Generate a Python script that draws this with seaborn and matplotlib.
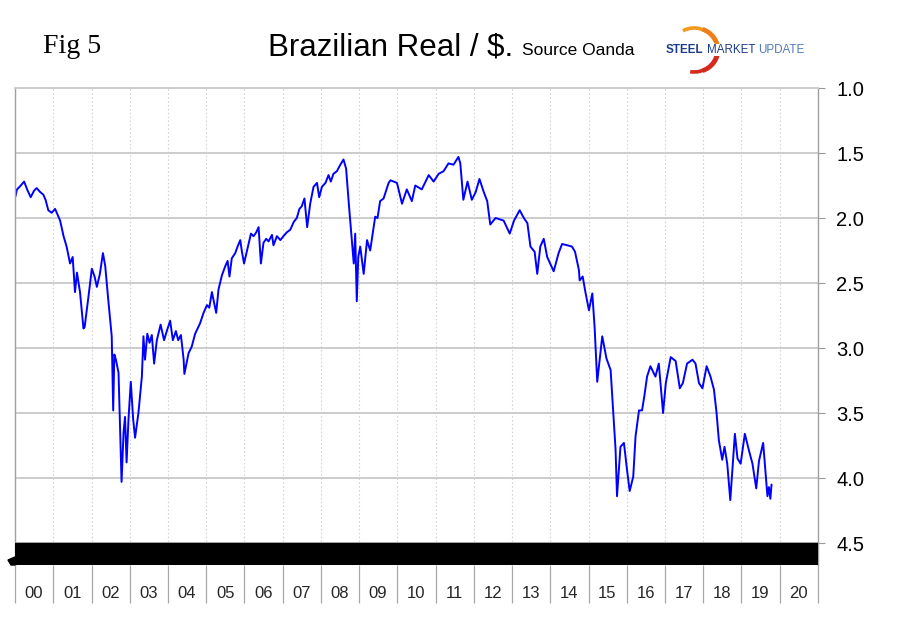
import pandas as pd
import seaborn as sns
import matplotlib.pyplot as plt
import matplotlib.dates as mdates
from matplotlib import font_manager
from matplotlib.patches import Arc, Polygon

# BRL per USD
dates = [
    "2000-01-03", "2000-01-20", "2000-02-14", "2000-03-28", "2000-05-01", "2000-05-30",
    "2000-07-01", "2000-07-26", "2000-08-28", "2000-09-27", "2000-10-19", "2000-11-14",
    "2000-12-16", "2001-01-18", "2001-02-14", "2001-03-07", "2001-04-09", "2001-05-08",
    "2001-06-10", "2001-07-05", "2001-07-27", "2001-08-15", "2001-09-13", "2001-10-16",
    "2001-10-27", "2001-12-02", "2002-01-04", "2002-01-30", "2002-02-21", "2002-03-22",
    "2002-04-20", "2002-05-12", "2002-06-10", "2002-07-13", "2002-07-27", "2002-08-07",
    "2002-08-22", "2002-09-16", "2002-10-15", "2002-11-03", "2002-11-17", "2002-12-02",
    "2002-12-20", "2003-01-11", "2003-02-03", "2003-02-21", "2003-03-25",
    # 2003-2008, read more closely
    "2003-04-27", "2003-05-12", "2003-05-27", "2003-06-18", "2003-07-09", "2003-07-31",
    "2003-08-22", "2003-09-17", "2003-10-23", "2003-11-25", "2003-12-21", "2004-01-22",
    "2004-02-17", "2004-03-17", "2004-04-08", "2004-05-04", "2004-05-30", "2004-06-06",
    "2004-07-16", "2004-08-15", "2004-09-17", "2004-11-03", "2004-12-06", "2005-01-08",
    "2005-01-30", "2005-02-24", "2005-04-06", "2005-04-28", "2005-05-31", "2005-07-02",
    "2005-07-24", "2005-08-11", "2005-09-02", "2005-10-05", "2005-10-27", "2005-11-22",
    "2005-12-06", "2005-12-28", "2006-01-26", "2006-03-04", "2006-03-29", "2006-04-24",
    "2006-05-16", "2006-06-07", "2006-07-02", "2006-07-28", "2006-08-19", "2006-09-21",
    "2006-10-05", "2006-11-07", "2006-12-10", "2007-01-08", "2007-02-10", "2007-03-15",
    "2007-04-17", "2007-05-16", "2007-06-10", "2007-07-02", "2007-07-28", "2007-08-23",
    "2007-09-21", "2007-10-23", "2007-11-25", "2007-12-16", "2008-01-11", "2008-02-14",
    "2008-03-14", "2008-04-05", "2008-04-30", "2008-06-02", "2008-07-05", "2008-08-04",
    "2008-08-29", "2008-09-24",
    # late 2008 onwards
    "2008-10-23", "2008-11-10", "2008-11-24", "2008-12-09", "2008-12-23",
    "2009-01-11", "2009-02-13", "2009-03-17", "2009-04-16", "2009-06-03", "2009-06-25",
    "2009-07-20", "2009-08-22", "2009-10-09", "2009-10-27", "2009-12-28", "2010-02-14",
    "2010-04-01", "2010-05-19", "2010-06-21", "2010-08-22", "2010-10-27", "2010-12-13",
    "2011-01-30", "2011-03-18", "2011-05-04", "2011-06-21", "2011-08-07", "2011-08-25",
    "2011-09-23", "2011-11-02", "2011-12-13", "2012-01-19", "2012-02-24", "2012-04-05",
    "2012-05-08", "2012-06-06", "2012-07-27", "2012-10-12", "2012-12-09", "2013-01-19",
    "2013-03-14", "2013-04-23", "2013-05-27", "2013-06-25", "2013-08-04", "2013-08-29",
    "2013-09-27", "2013-10-30", "2013-12-02", "2014-02-02", "2014-03-21", "2014-04-23",
    "2014-06-13", "2014-07-27", "2014-08-25", "2014-10-01", "2014-10-08", "2014-11-06",
    "2014-12-02", "2015-01-05", "2015-02-06", "2015-02-28", "2015-03-25", "2015-05-12",
    "2015-06-21", "2015-07-31", "2015-08-25", "2015-09-16", "2015-09-30", "2015-11-02",
    "2015-12-05", "2016-01-04", "2016-01-29", "2016-03-03", "2016-03-25", "2016-04-27",
    "2016-05-26", "2016-06-17", "2016-07-13", "2016-08-14", "2016-10-01", "2016-11-02",
    "2016-12-13", "2017-01-08", "2017-02-24", "2017-04-12", "2017-05-22", "2017-06-20",
    "2017-07-30", "2017-09-20", "2017-10-19", "2017-11-21", "2017-12-24", "2018-02-02",
    "2018-03-11", "2018-04-13", "2018-05-08", "2018-05-30", "2018-07-01", "2018-07-23",
    "2018-08-18", "2018-09-16", "2018-10-30", "2018-11-24", "2018-12-24", "2019-02-02",
    "2019-03-14", "2019-04-16", "2019-05-22", "2019-06-17", "2019-07-27", "2019-09-06",
    "2019-09-20", "2019-10-04", "2019-10-15",
]
rate = [
    1.84, 1.78, 1.76, 1.72, 1.79, 1.84,
    1.79, 1.77, 1.80, 1.82, 1.86, 1.94,
    1.96, 1.93, 1.98, 2.02, 2.14, 2.22,
    2.35, 2.30, 2.57, 2.42, 2.57, 2.85,
    2.84, 2.61, 2.39, 2.45, 2.53, 2.43,
    2.27, 2.37, 2.63, 2.91, 3.48, 3.05,
    3.09, 3.19, 4.03, 3.65, 3.53, 3.88,
    3.55, 3.26, 3.55, 3.69, 3.50,
    # 2003-2008
    3.22, 2.91, 3.09, 2.89, 2.96, 2.90,
    3.12, 2.94, 2.82, 2.94, 2.87, 2.79,
    2.94, 2.87, 2.94, 2.90, 3.09, 3.20,
    3.04, 2.99, 2.89, 2.81, 2.73, 2.67,
    2.69, 2.57, 2.73, 2.55, 2.44, 2.37,
    2.33, 2.45, 2.31, 2.27, 2.22, 2.17,
    2.25, 2.35, 2.25, 2.12, 2.14, 2.11,
    2.07, 2.35, 2.19, 2.16, 2.18, 2.13,
    2.21, 2.14, 2.17, 2.14, 2.11, 2.09,
    2.03, 2.00, 1.93, 1.91, 1.85, 2.07,
    1.89, 1.76, 1.73, 1.84, 1.76, 1.73,
    1.67, 1.72, 1.66, 1.64, 1.59, 1.55,
    1.62, 1.89,
    # late 2008 onwards
    2.17, 2.35, 2.12, 2.64, 2.30,
    2.22, 2.43, 2.17, 2.25, 1.99, 2.00,
    1.87, 1.85, 1.73, 1.71, 1.73, 1.89,
    1.78, 1.87, 1.75, 1.78, 1.67, 1.72,
    1.66, 1.64, 1.58, 1.59, 1.53, 1.58,
    1.86, 1.72, 1.86, 1.80, 1.70, 1.80,
    1.87, 2.05, 2.00, 2.02, 2.12, 2.02,
    1.94, 2.00, 2.04, 2.22, 2.26, 2.43,
    2.22, 2.16, 2.30, 2.41, 2.27, 2.20,
    2.21, 2.22, 2.26, 2.40, 2.48, 2.45,
    2.57, 2.71, 2.58, 2.84, 3.26, 2.91,
    3.08, 3.17, 3.50, 3.78, 4.14, 3.76,
    3.73, 3.94, 4.10, 3.99, 3.68, 3.48,
    3.48, 3.37, 3.22, 3.14, 3.22, 3.12,
    3.50, 3.27, 3.07, 3.10, 3.31, 3.27,
    3.12, 3.09, 3.12, 3.27, 3.31, 3.14,
    3.22, 3.32, 3.50, 3.71, 3.86, 3.76,
    3.89, 4.17, 3.66, 3.85, 3.89, 3.66,
    3.79, 3.89, 4.08, 3.87, 3.73, 4.14,
    4.07, 4.16, 4.05,
]
y_ticks = [1.0, 1.5, 2.0, 2.5, 3.0, 3.5, 4.0, 4.5]
logo_words = ["STEEL", "MARKET", "UPDATE"]

df = pd.DataFrame({"date": pd.to_datetime(dates), "rate": rate})

sns.set_theme(style="white")
installed = {f.name for f in font_manager.fontManager.ttflist}
narrow = "Liberation Sans Narrow" if "Liberation Sans Narrow" in installed else "Liberation Sans"
plt.rcParams["font.family"] = ["Liberation Sans", "DejaVu Sans"]

W, H = 909, 622
fig = plt.figure(figsize=(W / 100, H / 100), dpi=100)
ax = fig.add_axes([15 / W, 1 - 565 / H, 803 / W, 477 / H])

sns.lineplot(data=df, x="date", y="rate", ax=ax, color="#0000ff", lw=1.4, estimator=None)

# y axis: inverted, labels on the right; extra room below 4.5 for the black band
band_bottom = 4.5 + 22 / 130
ax.set_ylim(band_bottom, 1.0)
ax.set_yticks(y_ticks)
ax.set_yticklabels([f"{v:.1f}" for v in y_ticks])
ax.yaxis.tick_right()
ax.tick_params(axis="y", which="major", right=True, length=5, width=0.8, color="#999999",
               pad=8, labelsize=14.5, labelcolor="black")
ax.axhspan(4.5, band_bottom, color="black", zorder=3)

# x axis: year separators as long minor ticks, labels centred in each year
ax.set_xlim(pd.Timestamp("2000-01-01"), pd.Timestamp("2021-01-01"))
ax.xaxis.set_minor_locator(mdates.YearLocator(1, month=1, day=1))
ax.xaxis.set_major_locator(mdates.YearLocator(1, month=7, day=1))
ax.xaxis.set_major_formatter(mdates.DateFormatter("%y"))
ax.tick_params(axis="x", which="minor", bottom=True, length=27, width=0.9, color="#a8a8a8",
               direction="out")
ax.tick_params(axis="x", which="major", bottom=True, length=0, pad=15, labelsize=12)
for lab in ax.get_xticklabels():
    lab.set_fontfamily(narrow)

ax.set_xlabel("")
ax.set_ylabel("")
ax.grid(False)
ax.yaxis.grid(True, color="#cccccc", lw=1.4)
ax.xaxis.grid(True, which="minor", color="#d4d4d4", lw=0.8, linestyle=(0, (1.5, 2)))

for side in ["left", "right"]:
    ax.spines[side].set_color("#a0a0a0")
    ax.spines[side].set_linewidth(1.0)
ax.spines["top"].set_color("#cccccc")
ax.spines["top"].set_linewidth(1.4)
ax.spines["bottom"].set_visible(False)

# small notch at the left end of the band
fig.add_artist(Polygon([(8 / W, 1 - 560 / H), (15 / W, 1 - 557 / H), (15 / W, 1 - 565 / H),
                        (11 / W, 1 - 565 / H)], closed=True, transform=fig.transFigure,
                       color="black"))

# titles
fig.text(43 / W, 1 - 53 / H, "Fig 5", fontsize=20, family="Liberation Serif", color="black")
fig.text(268 / W, 1 - 55 / H, "Brazilian Real / $.", fontsize=22.5, color="black")
fig.text(522 / W, 1 - 55 / H, "Source Oanda", fontsize=12.5, color="black")

# logo
lax = fig.add_axes([660 / W, 1 - 75 / H, 155 / W, 50 / H])
lax.set_xlim(660, 815)
lax.set_ylim(547, 597)
lax.axis("off")
lax.add_patch(Arc((694, 572), 46, 44, theta1=20, theta2=120, color="#f39a1e", lw=2.6))
lax.add_patch(Arc((695, 572), 46, 44, theta1=-5, theta2=70, color="#ee7d1a", lw=3.2))
lax.add_patch(Arc((694, 572), 46, 44, theta1=-100, theta2=-5, color="#d62a1e", lw=2.6))
lax.add_patch(Arc((695, 572), 46, 44, theta1=-70, theta2=0, color="#d62a1e", lw=3.2))

fig.canvas.draw()
renderer = fig.canvas.get_renderer()
x = 666
styles = [("bold", "#1d3c8a"), ("normal", "#1d3c8a"), ("normal", "#4f7ab8")]
for word, (weight, colour) in zip(logo_words, styles):
    t = fig.text(x / W, 1 - 53 / H, word, fontsize=8.4, fontweight=weight, color=colour,
                 family=narrow, zorder=5,
                 bbox=dict(facecolor="white", edgecolor="none", pad=0.3))
    x = t.get_window_extent(renderer).x1 + 3

fig.savefig("out.png", dpi=100)
